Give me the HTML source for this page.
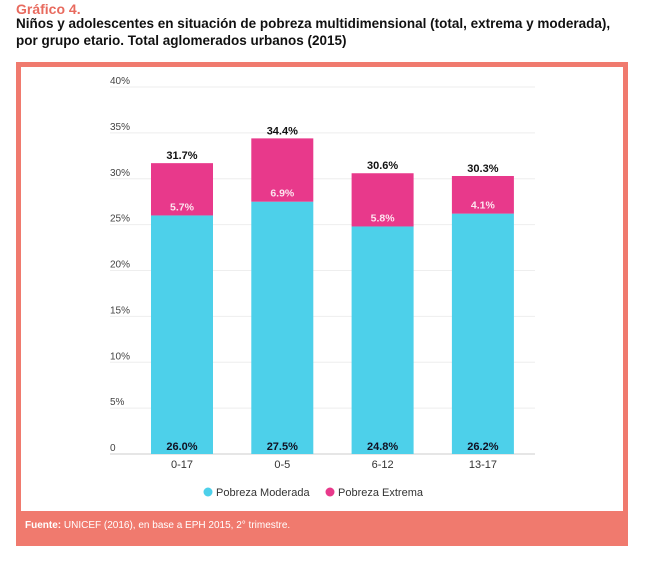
<!DOCTYPE html>
<html><head><meta charset="utf-8"><style>
body{margin:0;width:650px;height:573px;background:#fff;font-family:"Liberation Sans",sans-serif;position:relative;overflow:hidden}
#t1{position:absolute;left:16px;top:1px;color:#e86a5e;font-size:14px;font-weight:bold}
#t2{position:absolute;left:16px;top:15px;color:#111;font-size:13.5px;font-weight:bold;line-height:17px}
#frame{position:absolute;left:16px;top:62px;width:612px;height:484px;background:#f07a6e}
#inner{position:absolute;left:21px;top:67px;width:602px;height:444px;background:#fff}
#foot{position:absolute;left:25px;top:520px;color:#fff;font-size:10px}
svg{position:absolute;left:0;top:0}
</style></head><body>
<div id="t1">Gráfico 4.</div>
<div id="t2">Niños y adolescentes en situación de pobreza multidimensional (total, extrema y moderada),<br>por grupo etario. Total aglomerados urbanos (2015)</div>
<div id="frame"></div>
<div id="inner"></div>
<div id="foot"><b>Fuente:</b> UNICEF (2016), en base a EPH 2015, 2° trimestre.</div>
<svg id="c" width="650" height="573"></svg>
<script>
const categories=["0-17","0-5","6-12","13-17"];
const moderada=[26.0,27.5,24.8,26.2];
const extrema=[5.7,6.9,5.8,4.1];
const totals=[31.7,34.4,30.6,30.3];
const ticks=[0,5,10,15,20,25,30,35,40];
const NS="http://www.w3.org/2000/svg";
const svg=document.getElementById('c');
const y=v=>454-v*9.175;
const xc=i=>182+i*100.3;
function el(t,a,txt){const e=document.createElementNS(NS,t);for(const k in a)e.setAttribute(k,a[k]);if(txt!==undefined)e.textContent=txt;svg.appendChild(e);return e;}
ticks.forEach(t=>{
 const g=el('line',{x1:110,x2:535,y1:y(t),y2:y(t),stroke:t===0?'#ccc':'#eee','stroke-width':1});
 
 
 const l=el('text',{x:110,y:y(t)-3,'font-size':10,fill:'#444'},t===0?'0':t+'%');
 
 
});
const bw=62;
categories.forEach((c,i)=>{
 const x=xc(i)-bw/2;
 const b1=el('rect',{x:x,y:y(moderada[i]),width:bw,height:y(0)-y(moderada[i]),fill:'#4dd0ea'});
 
 
 const top=moderada[i]+extrema[i];
 const b2=el('rect',{x:x,y:y(top),width:bw,height:y(moderada[i])-y(top),fill:'#e8398b'});
 
 
 const t1=el('text',{x:xc(i),y:y(totals[i])-4,'font-size':11,'font-weight':'bold','text-anchor':'middle',fill:'#111'},totals[i].toFixed(1)+'%');
 
 
 const t2=el('text',{x:xc(i),y:y(moderada[i])-5,'font-size':10.5,'font-weight':'bold','text-anchor':'middle',fill:'#fde4ef'},extrema[i].toFixed(1)+'%');
 
 
 const t3=el('text',{x:xc(i),y:450,'font-size':11,'font-weight':'bold','text-anchor':'middle',fill:'#112'},moderada[i].toFixed(1)+'%');
 
 
 const t4=el('text',{x:xc(i),y:468,'font-size':11,'text-anchor':'middle',fill:'#333'},c);
 
 
});
const lg=[["Pobreza Moderada","#4dd0ea",208],["Pobreza Extrema","#e8398b",330]];
lg.forEach(l=>{
 const d=el('circle',{cx:l[2],cy:492,r:4.5,fill:l[1]});
 
 
 const t=el('text',{x:l[2]+8,y:496,'font-size':11,fill:'#333'},l[0]);
 
 
});
</script>
</body></html>
